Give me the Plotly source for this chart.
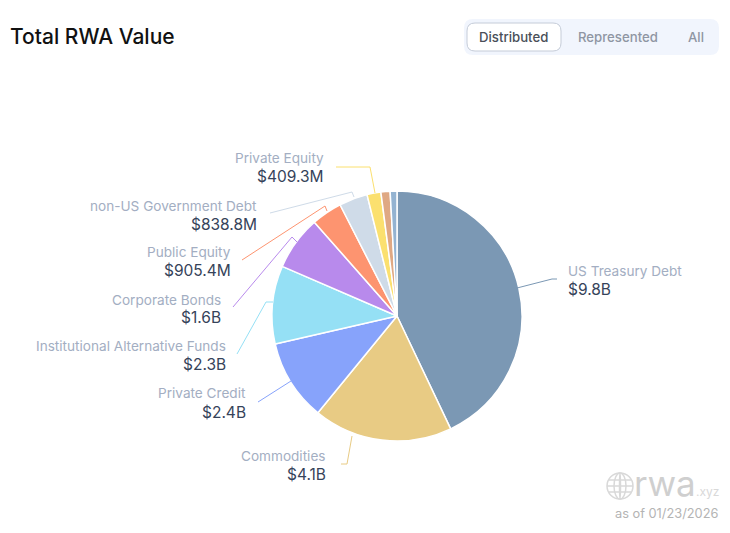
import plotly.graph_objects as go

W, H = 730, 533

# values in $B (last two slices have no label, estimated)
categories = ["US Treasury Debt", "Commodities", "Private Credit",
              "Institutional Alternative Funds", "Corporate Bonds", "Public Equity",
              "non-US Government Debt", "Private Equity", "Other A", "Other B"]
values = [9.8, 4.1, 2.4, 2.3, 1.6, 0.9054, 0.8388, 0.4093, 0.27, 0.2]
value_labels = ["$9.8B", "$4.1B", "$2.4B", "$2.3B", "$1.6B", "$905.4M", "$838.8M", "$409.3M"]
colors = ["#7b98b4", "#e8cb84", "#87a3fb", "#95e0f5", "#b88aec", "#fd9470",
          "#cfdbe8", "#fbe06f", "#dfa883", "#94b3d1"]


def px(x):
    return x / W


def py(y):
    return 1 - y / H


fig = go.Figure(go.Pie(
    labels=categories,
    values=values,
    sort=False,
    direction="clockwise",
    rotation=0,
    textinfo="none",
    marker=dict(colors=colors, line=dict(color="white", width=1.5)),
    domain=dict(x=[px(272), px(522)], y=[py(441), py(191)]),
    showlegend=False,
))

# label anchors: x, anchor side, y of name line, y of value line
label_pos = [(566, "left", 271, 289), (328, "right", 456, 474), (248, "right", 393, 412),
             (228, "right", 346, 364), (223, "right", 300, 317), (233, "right", 252, 270),
             (259, "right", 206, 224), (326, "right", 158, 176)]

# leader lines, in page pixels
leaders = [[(517, 288), (552, 279), (557, 279)],
           [(341, 464), (347, 464), (352, 436)],
           [(258, 402), (291, 381)],
           [(237, 354), (266, 302), (273, 302)],
           [(233, 307), (292, 237), (297, 242)],
           [(242, 260), (325, 206), (327, 211)],
           [(270, 213), (352, 192), (354, 197)],
           [(336, 167), (370, 167), (375, 193)]]

annotations = []
shapes = []


def add_text(text, x, y, size, color, anchor="left", weight=None, family="Inter"):
    annotations.append(dict(
        text=text, x=px(x), y=py(y), xref="paper", yref="paper",
        xanchor=anchor, yanchor="middle", showarrow=False,
        font=dict(family=family, size=size, color=color, weight=weight),
    ))


def rounded_rect(x0, y0, x1, y1, r):
    x0, x1 = px(x0), px(x1)
    y0, y1 = py(y0), py(y1)
    rx, ry = r / W, r / H
    return (f"M {x0 + rx} {y0} L {x1 - rx} {y0} Q {x1} {y0} {x1} {y0 - ry} "
            f"L {x1} {y1 + ry} Q {x1} {y1} {x1 - rx} {y1} "
            f"L {x0 + rx} {y1} Q {x0} {y1} {x0} {y1 + ry} "
            f"L {x0} {y0 - ry} Q {x0} {y0} {x0 + rx} {y0} Z")


for i, (x, side, y_name, y_value) in enumerate(label_pos):
    add_text(categories[i], x, y_name, 13.6, "#a3aec2", side)
    add_text(value_labels[i], x, y_value, 15.5, "#36435a", side)
    path = "M " + " L ".join(f"{px(a)} {py(b)}" for a, b in leaders[i])
    shapes.append(dict(type="path", path=path, xref="paper", yref="paper",
                       line=dict(color=colors[i], width=1)))

# title and toggle
add_text("Total RWA Value", 8, 37, 21, "#111111", weight=500)
shapes.append(dict(type="path", path=rounded_rect(464, 19, 719, 55, 9), xref="paper", yref="paper",
                   fillcolor="#f1f5fd", line=dict(width=0), layer="below"))
shapes.append(dict(type="path", path=rounded_rect(467, 23, 561, 51, 8), xref="paper", yref="paper",
                   fillcolor="white", line=dict(color="#c5ccd8", width=1), layer="below"))
add_text("Distributed", 513.5, 37, 13.2, "#4a4f58", "center", weight=500)
add_text("Represented", 618, 37, 13.2, "#8f96a3", "center", weight=500)
add_text("All", 695.5, 37, 13.2, "#8f96a3", "center", weight=500)

# watermark
gx, gy = 620, 486
for rx, ry in [(13, 13), (6, 13), (0.5, 13)]:
    shapes.append(dict(type="circle", xref="paper", yref="paper",
                       x0=px(gx - rx), x1=px(gx + rx), y0=py(gy + ry), y1=py(gy - ry),
                       line=dict(color="#d9d9d9", width=1.5)))
for dy, half in [(-6, 11.5), (0, 13), (6, 11.5)]:
    shapes.append(dict(type="line", xref="paper", yref="paper",
                       x0=px(gx - half), x1=px(gx + half), y0=py(gy + dy), y1=py(gy + dy),
                       line=dict(color="#d9d9d9", width=1.5)))
add_text("rwa", 632, 483, 35, "#cfcfcf")
add_text(".xyz", 694, 491, 12, "#d9d9d9", "left")
add_text("as of 01/23/2026", 720, 513, 12.8, "#b4b4b4", "right")

fig.update_layout(
    width=W, height=H,
    margin=dict(l=0, r=0, t=0, b=0),
    paper_bgcolor="white",
    annotations=annotations,
    shapes=shapes,
)

fig.write_html("out.html", config=dict(displayModeBar=False),
               post_script="document.body.style.margin='0';document.body.style.overflow='hidden';")
